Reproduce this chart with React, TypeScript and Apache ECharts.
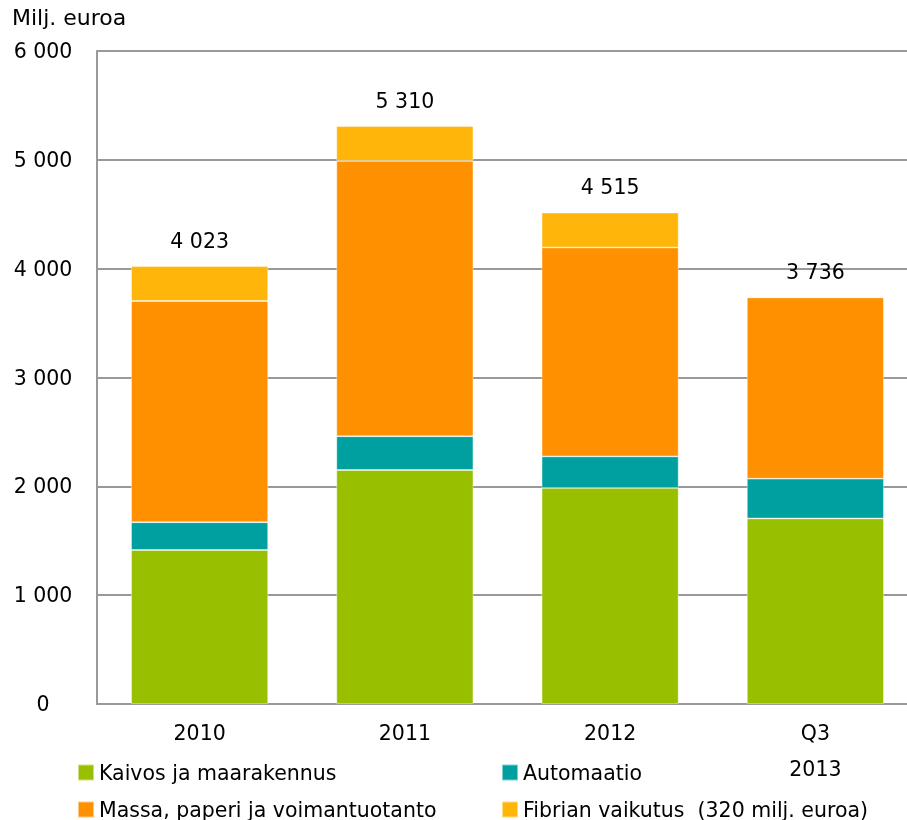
import React, { useEffect, useRef } from "react";
import * as echarts from "echarts";

const categories = ["2010", "2011", "2012", "Q3\n2013"];
const kaivos = [1415, 2150, 1985, 1705];
const automaatio = [255, 310, 290, 365];
const massa = [2033, 2530, 1920, 1666];
const fibria = [320, 320, 320, 0];
const totals = [4023, 5310, 4515, 3736];
const seriesNames = [
  "Kaivos ja maarakennus",
  "Automaatio",
  "Massa, paperi ja voimantuotanto",
  "Fibrian vaikutus  (320 milj. euroa)",
];
const colors = ["#98C000", "#00A0A0", "#FF9000", "#FFB509"];

const fmt = (v: number) => String(v).replace(/\B(?=(\d{3})+(?!\d))/g, " ");
const FONT = "DejaVu Sans";
const FS = 20.5;

export default function App() {
  const ref = useRef<HTMLDivElement>(null);
  useEffect(() => {
    if (!ref.current) return;
    const chart = echarts.init(ref.current, null, { renderer: "svg" });
    const values = [kaivos, automaatio, massa, fibria];
    const barSeries = values.map((d, i) => ({
      name: seriesNames[i],
      type: "bar",
      stack: "total",
      data: d,
      barWidth: 137,
      itemStyle: { color: colors[i], borderColor: "rgba(255,255,255,0.5)", borderWidth: 0.8 },
    }));
    chart.setOption({
      animation: false,
      textStyle: { fontFamily: FONT, color: "#000" },
      title: {
        text: "Milj. euroa",
        left: 12,
        top: 6,
        padding: 0,
        textStyle: { fontFamily: FONT, fontSize: 22, fontWeight: "normal", color: "#000" },
      },
      grid: {
        left: 97,
        width: 821,
        top: 51,
        height: 653,
        containLabel: false,
        outerBoundsMode: "none",
      },
      xAxis: {
        type: "category",
        data: categories,
        axisLine: { show: true, lineStyle: { color: "#999", width: 2 } },
        axisTick: { show: false },
        axisLabel: {
          fontFamily: FONT,
          fontSize: FS,
          color: "#000",
          lineHeight: 36,
          margin: 11,
        },
      },
      yAxis: {
        type: "value",
        min: 0,
        max: 6000,
        interval: 1000,
        axisLine: { show: true, lineStyle: { color: "#999", width: 2 } },
        axisTick: { show: false },
        splitLine: { show: true, lineStyle: { color: "#999", width: 2 } },
        axisLabel: {
          fontFamily: FONT,
          fontSize: FS,
          color: "#000",
          align: "center",
          margin: 54,
          formatter: (v: number) => fmt(v),
        },
      },
      legend: [
        {
          data: [seriesNames[0], seriesNames[2]],
          orient: "vertical",
          left: 77,
          top: 762,
          padding: 0,
          itemWidth: 16,
          itemHeight: 16,
          itemGap: 16,
          icon: "rect",
          textStyle: { fontFamily: FONT, fontSize: FS, color: "#000", lineHeight: 20 },
        },
        {
          data: [seriesNames[1], seriesNames[3]],
          orient: "vertical",
          left: 501,
          top: 762,
          padding: 0,
          itemWidth: 16,
          itemHeight: 16,
          itemGap: 16,
          icon: "rect",
          textStyle: { fontFamily: FONT, fontSize: FS, color: "#000", lineHeight: 20 },
        },
      ],
      series: [
        ...barSeries,
        {
          name: "totals",
          type: "scatter",
          data: totals,
          symbolSize: 0,
          silent: true,
          itemStyle: { opacity: 1 },
          label: {
            show: true,
            position: "top",
            distance: 15,
            opacity: 1,
            fontFamily: FONT,
            fontSize: FS,
            color: "#000",
            formatter: (p: any) => fmt(p.value),
          },
        },
      ],
    });
    return () => chart.dispose();
  }, []);
  return (
    <div
      ref={ref}
      style={{ position: "fixed", left: 0, top: 0, width: 907, height: 820 }}
    />
  );
}
